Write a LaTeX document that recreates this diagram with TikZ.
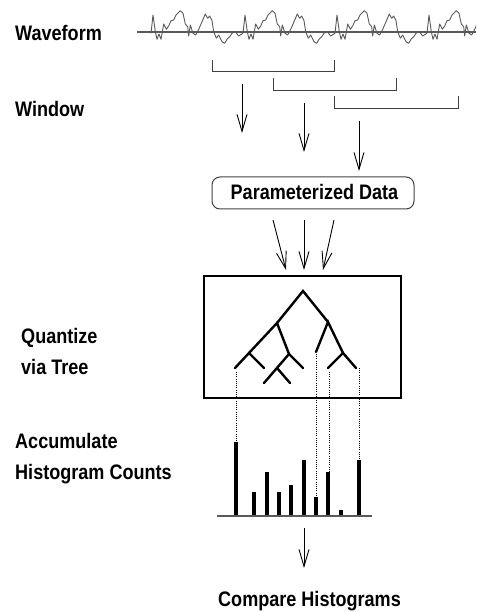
\documentclass[tikz,border=0pt]{standalone}
\usepackage{fontspec}
\setmainfont{Liberation Sans}
\usepackage{graphicx}
\usetikzlibrary{arrows.meta}
\newcommand\nlab[1]{\scalebox{0.86}[1]{#1}}
\begin{document}
\begin{tikzpicture}[x=1pt,y=-1pt,
  lbl/.style={font=\fontsize{21}{24}\selectfont\bfseries, inner sep=0pt, anchor=base west},
  darr/.style={-{Straight Barb[length=17pt,width=10pt,line width=0.9pt]}, line width=0.9pt},
  brk/.style={line width=1pt, draw=black!75},
  branch/.style={line width=2.4pt, line cap=round},
  dots/.style={dash pattern=on 1pt off 1.2pt, line width=1pt},
  bar/.style={line width=4.6pt},
  wave/.style={line width=0.9pt, draw=black!65, line join=round},
]
\useasboundingbox (0,0) rectangle (476,612);

% left labels
\node[lbl] (wavelbl) at (15,41) {\nlab{Waveform}};
\node[lbl] (winlbl) at (15,116.5) {\nlab{Window}};
\node[lbl] (quantlbl) at (21,343) {\nlab{Quantize}};
\node[lbl] (vialbl) at (21,374) {\nlab{via Tree}};
\node[lbl] (acclbl) at (15,448) {\nlab{Accumulate}};
\node[lbl] (histlbl) at (15,479) {\nlab{Histogram Counts}};

% waveform
\coordinate (wl) at (137,32);
\coordinate (wr) at (476,32);
\draw[line width=1.4pt, draw=black!65] (wl) -- (wr);
\begin{scope}
\clip (0,0) rectangle (476,612);
\foreach \k in {0,1,2,3}{
  \begin{scope}[shift={(151+92*\k,32)}]
  \draw[wave] (0,1.3) -- (2,-17) -- (4.3,-0.3) -- (6,7.3) -- (8,2) -- (10,7.3) -- (12.7,-8) -- (15.3,-2.7) -- (17.7,-6) -- (20,-11.3) -- (22.7,-12) -- (25,-17) -- (29.3,-21.3) -- (32,-18.7) -- (34.3,-8) -- (36.7,-5.3) -- (37.7,4) -- (39.3,-7) -- (42,1.3) -- (44.7,3) -- (47.7,-2.7) -- (51,-10.3) -- (54.3,-18) -- (56.7,-13.7) -- (58.7,-16) -- (61,-11.3) -- (62.7,-0.3) -- (65.3,6.3) -- (67.7,3) -- (71,9.7) -- (73.7,11.3) -- (76,7.3) -- (78.7,4.7) -- (81,1.3) -- (84.3,-0.3) -- (87.7,4) -- (92,1.3);
  \end{scope}
}
\end{scope}

% windows
\draw[brk] (212,60) -- (212,72) -- (334.5,72) -- (334.5,60);
\draw[brk] (273.5,78) -- (273.5,90.5) -- (396,90.5) -- (396,78);
\draw[brk] (334.5,96.5) -- (334.5,108.5) -- (458,108.5) -- (458,96.5);

% window arrows
\coordinate (w1s) at (242,84);  \coordinate (w1e) at (242,133);
\coordinate (w2s) at (304,103); \coordinate (w2e) at (304,152);
\coordinate (w3s) at (359,121); \coordinate (w3e) at (359,171);
\draw[darr] (w1s) -- (w1e);
\draw[darr] (w2s) -- (w2e);
\draw[darr] (w3s) -- (w3e);

% parameterized data
\node[draw, line width=1pt, draw=black!75, rounded corners=8pt, minimum width=202pt, minimum height=32pt, inner sep=0pt] (param) at (313,193) {};
\node[lbl, anchor=base] (paramtxt) at (314.5,200) {\nlab{Parameterized Data}};

% arrows into tree
\coordinate (p1) at (273,220); \coordinate (t1) at (286,270);
\coordinate (p2) at (304,220); \coordinate (t2) at (304,270);
\coordinate (p3) at (334,220); \coordinate (t3) at (323,270);
\draw[darr] (p1) -- (t1);
\draw[darr] (p2) -- (t2);
\draw[darr] (p3) -- (t3);

% tree box
\node[draw, line width=1.2pt, minimum width=197pt, minimum height=122pt, inner sep=0pt] (treebox) at (302.5,337) {};

% tree
\coordinate (r) at (303,291);
\coordinate (a) at (277,323);
\coordinate (b) at (328,322);
\coordinate (aa) at (249,353);
\coordinate (ab) at (289,354);
\coordinate (aaa) at (235,368);
\coordinate (aab) at (264,368);
\coordinate (abr) at (303,368);
\coordinate (abm) at (277,368);
\coordinate (abl) at (264,383);
\coordinate (abmr) at (290,383);
\coordinate (ba) at (316,352);
\coordinate (bb) at (343,353);
\coordinate (bba) at (328,368);
\coordinate (bbb) at (356,368);
\draw[branch] (a) -- (r) -- (b);
\draw[branch] (aa) -- (a) -- (ab);
\draw[branch] (aaa) -- (aa) -- (aab);
\draw[branch] (abl) -- (ab) -- (abr);
\draw[branch] (abm) -- (abmr);
\draw[branch] (ba) -- (b) -- (bb);
\draw[branch] (bba) -- (bb) -- (bbb);

% histogram
\coordinate (hl) at (217,516);
\coordinate (hr) at (372,516);
\foreach \x/\t [count=\i] in {236/442, 254/492, 267/472, 279/492, 291/485, 304/460, 316/497, 328/472, 341/510, 359/460}{
  \coordinate (bar\i) at (\x,\t);
  \draw[bar] (\x,516) -- (bar\i);
}
\draw[line width=1.5pt, draw=black!65] (hl) -- (hr);

% dotted links
\coordinate (d1) at (236,372);
\coordinate (d2) at (316,354);
\coordinate (d3) at (329,372);
\coordinate (d4) at (359,368);
\draw[dots] (d1) -- (bar1);
\draw[dots] (d2) -- (bar7);
\draw[dots] (d3) -- (329,472);
\draw[dots] (d4) -- (bar10);

% compare
\coordinate (c1) at (304,528);
\coordinate (c2) at (304,568);
\draw[darr] (c1) -- (c2);
\node[lbl, anchor=base] (cmp) at (309.5,606) {\nlab{Compare Histograms}};
\end{tikzpicture}
\end{document}
